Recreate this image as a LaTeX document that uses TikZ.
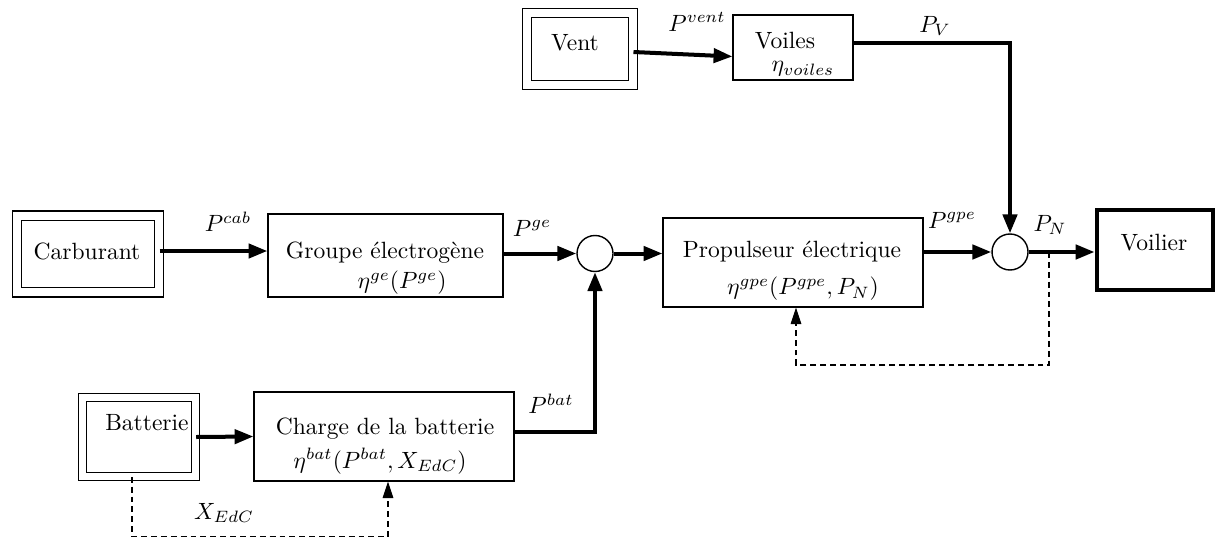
\documentclass[tikz,border=0pt]{standalone}
\usepackage{amsmath}
\usetikzlibrary{arrows.meta,calc}

\tikzset{
  bloc/.style={draw,line width=0.5pt,inner sep=0pt},
  source/.style={draw,double,double distance=3.6pt,line width=0.45pt,inner sep=0pt},
  somme/.style={draw,circle,minimum size=15.3pt,inner sep=0pt,line width=0.6pt},
  texte/.style={inner sep=0.5pt},
  flux/.style={line width=1.7pt,-{Triangle[length=8pt,width=6pt]}},
  retour/.style={line width=0.45pt,dash pattern=on 2.5pt off 1.7pt,-{Triangle[length=7pt,width=4.5pt]}}
}

\begin{document}
\begin{tikzpicture}[x=0.425pt,y=-0.425pt]
\useasboundingbox (0,0) rectangle (1216,539);

% Sources
\node[source,minimum width=45pt,minimum height=30.6pt] (vent) at (580,49) {};
\node[source,minimum width=60.4pt,minimum height=32.5pt] (carburant) at (88,254) {};
\node[source,double distance=3pt,minimum width=48.2pt,minimum height=33.4pt] (batterie) at (139,437) {};

% Blocs
\node[bloc,minimum width=51pt,minimum height=27.6pt] (voiles) at (793,47.5) {};
\node[bloc,minimum width=99.9pt,minimum height=35.3pt] (groupe) at (385.5,255.5) {};
\node[bloc,minimum width=110.5pt,minimum height=37.8pt] (propulseur) at (793,262.5) {};
\node[bloc,minimum width=110.5pt,minimum height=37.8pt] (charge) at (384,436.5) {};
\node[bloc,line width=2.1pt,minimum width=49.3pt,minimum height=34pt] (voilier) at (1155,250) {};
\node[somme] (s1) at (595,253.5) {};
\node[somme] (s2) at (1010,252) {};

% Textes des blocs
\node[texte] (vent-t) at (575,43) {Vent};
\node[texte] (carburant-t) at (87,251) {Carburant};
\node[texte] (batterie-t) at (147,423) {Batterie};
\node[texte] (voiles-t) at (785,41) {Voiles};
\node[texte] (voiles-eta) at (803,69) {$\eta_{voiles}$};
\node[texte] (groupe-t) at (385,253) {Groupe électrogène};
\node[texte] (groupe-eta) at (402,283) {$\eta^{ge}(P^{ge})$};
\node[texte] (propulseur-t) at (792,252) {Propulseur électrique};
\node[texte] (propulseur-eta) at (803,289) {$\eta^{gpe}(P^{gpe},P_N)$};
\node[texte] (charge-t) at (385,429) {Charge de la batterie};
\node[texte] (charge-eta) at (380,461) {$\eta^{bat}(P^{bat},X_{EdC})$};
\node[texte] (voilier-t) at (1154,243) {Voilier};

% Flux de puissance
\draw[flux] ($(vent.east)+(0,3)$) -- ($(voiles.west)+(0,9)$);
\draw[flux] ($(voiles.east)+(0,-4)$) -| (s2.north);
\draw[flux] ($(carburant.east)+(0,-3)$) -- ($(groupe.west)+(0,-4.5)$);
\draw[flux] (groupe.east |- s1) -- (s1);
\draw[flux] (s1) -- (s1 -| propulseur.west);
\draw[flux] (propulseur.east |- s2) -- (s2);
\draw[flux] (s2) -- (s2 -| voilier.west);
\draw[flux] (batterie.east) -- (charge.west);
\draw[flux] ($(charge.east)+(0,-5)$) -| (s1.south);

\foreach \n/\x/\y/\t in {vent/697/22/P^{vent}, v/935/26/P_V, cab/228/222/P^{cab},
    ge/532/228/P^{ge}, gpe/952/220/P^{gpe}, n/1050/225/P_N,
    bat/551/404/P^{bat}, edc/224/513/X_{EdC}}
    \node[texte] (p-\n) at (\x,\y) {$\t$};

% Retours
\coordinate (pn) at (1049,252);
\draw[retour] (pn) -- ++(0,113) -| ($(propulseur.south)+(3,0)$);
\draw[retour] ($(batterie.south)+(-7,0)$) -- ++(0,60) -| ($(charge.south)+(4,0)$);
\end{tikzpicture}
\end{document}
